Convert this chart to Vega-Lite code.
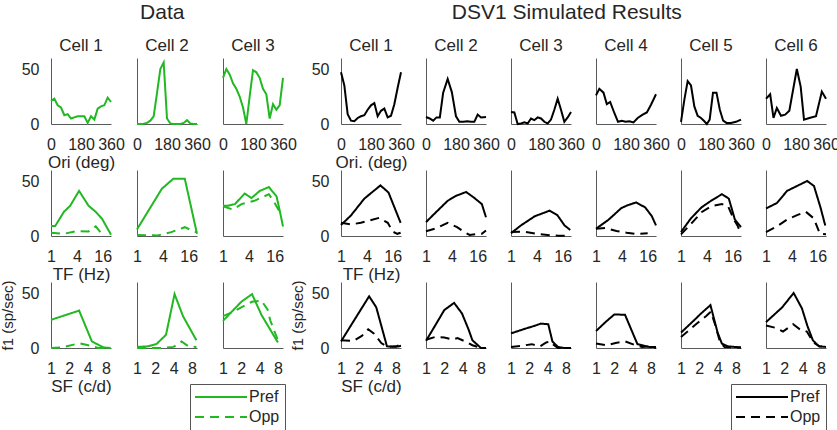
{
  "$schema": "https://vega.github.io/schema/vega-lite/v6.json",
  "padding": {"left": 0, "top": 2, "right": 0, "bottom": 0},
  "datasets": {
    "D_ori": [
      {"c":1,"x":0,"y":21},{"c":1,"x":20,"y":23},{"c":1,"x":40,"y":17},{"c":1,"x":60,"y":15},{"c":1,"x":80,"y":8},{"c":1,"x":100,"y":9},{"c":1,"x":120,"y":5},{"c":1,"x":140,"y":6},{"c":1,"x":160,"y":7},{"c":1,"x":180,"y":7},{"c":1,"x":200,"y":7},{"c":1,"x":220,"y":1},{"c":1,"x":240,"y":7},{"c":1,"x":260,"y":4},{"c":1,"x":280,"y":14},{"c":1,"x":300,"y":16},{"c":1,"x":320,"y":17},{"c":1,"x":340,"y":24},{"c":1,"x":360,"y":20},
      {"c":2,"x":0,"y":0},{"c":2,"x":20,"y":0},{"c":2,"x":40,"y":0.3},{"c":2,"x":60,"y":1},{"c":2,"x":80,"y":3},{"c":2,"x":100,"y":7},{"c":2,"x":120,"y":28},{"c":2,"x":140,"y":50},{"c":2,"x":160,"y":56},{"c":2,"x":180,"y":5},{"c":2,"x":200,"y":0.5},{"c":2,"x":220,"y":0},{"c":2,"x":240,"y":0},{"c":2,"x":260,"y":0},{"c":2,"x":280,"y":1},{"c":2,"x":300,"y":3.5},{"c":2,"x":320,"y":0.5},{"c":2,"x":340,"y":0},{"c":2,"x":360,"y":0},
      {"c":3,"x":0,"y":42},{"c":3,"x":20,"y":50},{"c":3,"x":40,"y":45},{"c":3,"x":60,"y":37},{"c":3,"x":80,"y":32},{"c":3,"x":100,"y":25},{"c":3,"x":120,"y":15},{"c":3,"x":140,"y":0},{"c":3,"x":160,"y":25},{"c":3,"x":180,"y":49},{"c":3,"x":200,"y":47},{"c":3,"x":220,"y":42},{"c":3,"x":240,"y":32},{"c":3,"x":260,"y":27},{"c":3,"x":280,"y":5},{"c":3,"x":300,"y":18},{"c":3,"x":320,"y":13},{"c":3,"x":340,"y":17},{"c":3,"x":360,"y":42}
    ],
    "D_tf": [
      {"c":1,"k":"Pref","x":1,"y":9},{"c":1,"k":"Pref","x":1.25,"y":9},{"c":1,"k":"Pref","x":2,"y":22},{"c":1,"k":"Pref","x":2.8,"y":27.5},{"c":1,"k":"Pref","x":4.5,"y":41},{"c":1,"k":"Pref","x":7.5,"y":27.5},{"c":1,"k":"Pref","x":11,"y":22},{"c":1,"k":"Pref","x":15.5,"y":15.6},{"c":1,"k":"Pref","x":25,"y":1.2},
      {"c":1,"k":"Opp","x":1,"y":3},{"c":1,"k":"Opp","x":2,"y":2},{"c":1,"k":"Opp","x":4,"y":4.5},{"c":1,"k":"Opp","x":7.5,"y":4.2},{"c":1,"k":"Opp","x":11,"y":8.7},{"c":1,"k":"Opp","x":16,"y":1},
      {"c":2,"k":"Pref","x":1,"y":6},{"c":2,"k":"Pref","x":3.8,"y":43},{"c":2,"k":"Pref","x":7,"y":52},{"c":2,"k":"Pref","x":13,"y":52},{"c":2,"k":"Pref","x":25,"y":2},
      {"c":2,"k":"Opp","x":1,"y":1},{"c":2,"k":"Opp","x":3,"y":0.5},{"c":2,"k":"Opp","x":6.3,"y":3.5},{"c":2,"k":"Opp","x":13,"y":8},{"c":2,"k":"Opp","x":25,"y":3},
      {"c":3,"k":"Pref","x":1,"y":27.5},{"c":3,"k":"Pref","x":1.3,"y":27.5},{"c":3,"k":"Pref","x":1.9,"y":29},{"c":3,"k":"Pref","x":3.2,"y":38.6},{"c":3,"k":"Pref","x":4.6,"y":34.5},{"c":3,"k":"Pref","x":7.2,"y":41},{"c":3,"k":"Pref","x":11.7,"y":44.5},{"c":3,"k":"Pref","x":17.7,"y":36},{"c":3,"k":"Pref","x":21,"y":23},{"c":3,"k":"Pref","x":25,"y":8.7},
      {"c":3,"k":"Opp","x":1,"y":27},{"c":3,"k":"Opp","x":1.7,"y":24},{"c":3,"k":"Opp","x":2.7,"y":29},{"c":3,"k":"Opp","x":5.4,"y":32},{"c":3,"k":"Opp","x":11.7,"y":38},{"c":3,"k":"Opp","x":15.5,"y":31},{"c":3,"k":"Opp","x":21,"y":22}
    ],
    "D_sf": [
      {"c":1,"k":"Pref","x":1,"y":25.6},{"c":1,"k":"Pref","x":2.9,"y":34},{"c":1,"k":"Pref","x":4.7,"y":6},{"c":1,"k":"Pref","x":7.3,"y":0.5},{"c":1,"k":"Pref","x":9.5,"y":0},
      {"c":1,"k":"Opp","x":1,"y":0},{"c":1,"k":"Opp","x":1.5,"y":0.5},{"c":1,"k":"Opp","x":2.9,"y":4.3},{"c":1,"k":"Opp","x":4.5,"y":2},{"c":1,"k":"Opp","x":6,"y":0},{"c":1,"k":"Opp","x":9.5,"y":0},
      {"c":2,"k":"Pref","x":1,"y":1},{"c":2,"k":"Pref","x":1.5,"y":1.5},{"c":2,"k":"Pref","x":2.1,"y":3.7},{"c":2,"k":"Pref","x":3,"y":12},{"c":2,"k":"Pref","x":4.15,"y":49},{"c":2,"k":"Pref","x":5.7,"y":29},{"c":2,"k":"Pref","x":9.5,"y":7},
      {"c":2,"k":"Opp","x":1,"y":0},{"c":2,"k":"Opp","x":2.5,"y":0},{"c":2,"k":"Opp","x":4,"y":1},{"c":2,"k":"Opp","x":5.4,"y":6},{"c":2,"k":"Opp","x":7,"y":1.5},{"c":2,"k":"Opp","x":9.5,"y":1},
      {"c":3,"k":"Pref","x":1,"y":24.7},{"c":3,"k":"Pref","x":1.45,"y":34},{"c":3,"k":"Pref","x":2,"y":42},{"c":3,"k":"Pref","x":3,"y":49},{"c":3,"k":"Pref","x":4.3,"y":30},{"c":3,"k":"Pref","x":8,"y":5},
      {"c":3,"k":"Opp","x":1,"y":29},{"c":3,"k":"Opp","x":1.5,"y":33},{"c":3,"k":"Opp","x":2,"y":37},{"c":3,"k":"Opp","x":3,"y":42},{"c":3,"k":"Opp","x":4.3,"y":43},{"c":3,"k":"Opp","x":5.4,"y":35},{"c":3,"k":"Opp","x":6,"y":25},{"c":3,"k":"Opp","x":8,"y":7}
    ],
    "S_ori": [
      {"c":1,"x":0,"y":47},{"c":1,"x":20,"y":35},{"c":1,"x":40,"y":9},{"c":1,"x":60,"y":3},{"c":1,"x":80,"y":2.5},{"c":1,"x":100,"y":5.5},{"c":1,"x":120,"y":7},{"c":1,"x":140,"y":8},{"c":1,"x":160,"y":13},{"c":1,"x":180,"y":17},{"c":1,"x":200,"y":19},{"c":1,"x":220,"y":7},{"c":1,"x":240,"y":12},{"c":1,"x":260,"y":14},{"c":1,"x":280,"y":6},{"c":1,"x":300,"y":7.5},{"c":1,"x":320,"y":18},{"c":1,"x":340,"y":33},{"c":1,"x":360,"y":47},
      {"c":2,"x":0,"y":6.4},{"c":2,"x":22,"y":5},{"c":2,"x":43,"y":3},{"c":2,"x":63,"y":6},{"c":2,"x":83,"y":6},{"c":2,"x":103,"y":28.5},{"c":2,"x":130,"y":41},{"c":2,"x":155,"y":29},{"c":2,"x":180,"y":7},{"c":2,"x":200,"y":2},{"c":2,"x":225,"y":2},{"c":2,"x":247,"y":2.5},{"c":2,"x":270,"y":2},{"c":2,"x":290,"y":2},{"c":2,"x":310,"y":8.6},{"c":2,"x":330,"y":6},{"c":2,"x":360,"y":6.4},
      {"c":3,"x":0,"y":11},{"c":3,"x":20,"y":10.5},{"c":3,"x":40,"y":0},{"c":3,"x":60,"y":0.5},{"c":3,"x":80,"y":1.5},{"c":3,"x":100,"y":0.5},{"c":3,"x":120,"y":5},{"c":3,"x":140,"y":3.5},{"c":3,"x":160,"y":6},{"c":3,"x":180,"y":5},{"c":3,"x":200,"y":2},{"c":3,"x":220,"y":0.5},{"c":3,"x":240,"y":4},{"c":3,"x":260,"y":13},{"c":3,"x":280,"y":23},{"c":3,"x":300,"y":13},{"c":3,"x":320,"y":2},{"c":3,"x":340,"y":6},{"c":3,"x":360,"y":11},
      {"c":4,"x":0,"y":26},{"c":4,"x":20,"y":32},{"c":4,"x":45,"y":28.5},{"c":4,"x":65,"y":18},{"c":4,"x":85,"y":20},{"c":4,"x":110,"y":10},{"c":4,"x":132,"y":2},{"c":4,"x":155,"y":3},{"c":4,"x":178,"y":2},{"c":4,"x":200,"y":2.5},{"c":4,"x":225,"y":1.5},{"c":4,"x":250,"y":5.5},{"c":4,"x":280,"y":8.5},{"c":4,"x":305,"y":10.5},{"c":4,"x":330,"y":17.5},{"c":4,"x":360,"y":27},
      {"c":5,"x":0,"y":2},{"c":5,"x":20,"y":22},{"c":5,"x":40,"y":39},{"c":5,"x":60,"y":35},{"c":5,"x":80,"y":16},{"c":5,"x":100,"y":7.5},{"c":5,"x":120,"y":5.5},{"c":5,"x":140,"y":2.5},{"c":5,"x":155,"y":0},{"c":5,"x":172,"y":4},{"c":5,"x":192,"y":28.5},{"c":5,"x":213,"y":28.5},{"c":5,"x":233,"y":13},{"c":5,"x":253,"y":3},{"c":5,"x":273,"y":1},{"c":5,"x":300,"y":1},{"c":5,"x":330,"y":2},{"c":5,"x":360,"y":4},
      {"c":6,"x":0,"y":23},{"c":6,"x":25,"y":27},{"c":6,"x":45,"y":5.5},{"c":6,"x":65,"y":14.5},{"c":6,"x":90,"y":7.5},{"c":6,"x":115,"y":8.5},{"c":6,"x":140,"y":12},{"c":6,"x":185,"y":50},{"c":6,"x":208,"y":34},{"c":6,"x":228,"y":4},{"c":6,"x":260,"y":5.5},{"c":6,"x":300,"y":7},{"c":6,"x":335,"y":29.5},{"c":6,"x":360,"y":23}
    ],
    "S_tf": [
      {"c":1,"k":"Pref","x":1,"y":10},{"c":1,"k":"Pref","x":1.7,"y":18.6},{"c":1,"k":"Pref","x":3.5,"y":34},{"c":1,"k":"Pref","x":8.3,"y":46},{"c":1,"k":"Pref","x":12.8,"y":39.5},{"c":1,"k":"Pref","x":24.5,"y":12},
      {"c":1,"k":"Opp","x":1,"y":12},{"c":1,"k":"Opp","x":1.7,"y":10.5},{"c":1,"k":"Opp","x":2.9,"y":12},{"c":1,"k":"Opp","x":7.8,"y":16.5},{"c":1,"k":"Opp","x":12.3,"y":12},{"c":1,"k":"Opp","x":16,"y":4},{"c":1,"k":"Opp","x":20.5,"y":2},{"c":1,"k":"Opp","x":24.5,"y":3},
      {"c":2,"k":"Pref","x":1,"y":12.6},{"c":2,"k":"Pref","x":1.55,"y":20},{"c":2,"k":"Pref","x":3.2,"y":32},{"c":2,"k":"Pref","x":5,"y":36.5},{"c":2,"k":"Pref","x":8.6,"y":40},{"c":2,"k":"Pref","x":13,"y":35},{"c":2,"k":"Pref","x":20,"y":29},{"c":2,"k":"Pref","x":25,"y":17},
      {"c":2,"k":"Opp","x":1,"y":4.3},{"c":2,"k":"Opp","x":1.7,"y":7},{"c":2,"k":"Opp","x":3.2,"y":12},{"c":2,"k":"Opp","x":5.3,"y":8},{"c":2,"k":"Opp","x":7.8,"y":3.6},{"c":2,"k":"Opp","x":10.4,"y":1},{"c":2,"k":"Opp","x":14,"y":1.5},{"c":2,"k":"Opp","x":20,"y":2},{"c":2,"k":"Opp","x":25,"y":5},
      {"c":3,"k":"Pref","x":1,"y":2.5},{"c":3,"k":"Pref","x":1.7,"y":9.6},{"c":3,"k":"Pref","x":3.6,"y":18},{"c":3,"k":"Pref","x":7.9,"y":23},{"c":3,"k":"Pref","x":12,"y":19},{"c":3,"k":"Pref","x":17.7,"y":9.6},{"c":3,"k":"Pref","x":24,"y":5.5},
      {"c":3,"k":"Opp","x":1,"y":3.6},{"c":3,"k":"Opp","x":2,"y":4},{"c":3,"k":"Opp","x":4,"y":2},{"c":3,"k":"Opp","x":8,"y":0.6},{"c":3,"k":"Opp","x":13,"y":0.3},{"c":3,"k":"Opp","x":24,"y":0},
      {"c":4,"k":"Pref","x":1,"y":6.6},{"c":4,"k":"Pref","x":1.95,"y":14.7},{"c":4,"k":"Pref","x":3.9,"y":25.4},{"c":4,"k":"Pref","x":5.5,"y":28},{"c":4,"k":"Pref","x":8.6,"y":30.5},{"c":4,"k":"Pref","x":14,"y":26},{"c":4,"k":"Pref","x":20,"y":18},{"c":4,"k":"Pref","x":25,"y":9.6},
      {"c":4,"k":"Opp","x":1,"y":6.6},{"c":4,"k":"Opp","x":1.65,"y":7.2},{"c":4,"k":"Opp","x":3,"y":4.5},{"c":4,"k":"Opp","x":5.2,"y":3},{"c":4,"k":"Opp","x":8.7,"y":1.8},{"c":4,"k":"Opp","x":16,"y":2.5},
      {"c":5,"k":"Pref","x":1,"y":3.6},{"c":5,"k":"Pref","x":1.7,"y":16},{"c":5,"k":"Pref","x":3,"y":26},{"c":5,"k":"Pref","x":5,"y":32},{"c":5,"k":"Pref","x":9,"y":38},{"c":5,"k":"Pref","x":13,"y":34},{"c":5,"k":"Pref","x":18,"y":15},{"c":5,"k":"Pref","x":25,"y":8},
      {"c":5,"k":"Opp","x":1,"y":1.5},{"c":5,"k":"Opp","x":1.8,"y":12},{"c":5,"k":"Opp","x":3,"y":21.6},{"c":5,"k":"Opp","x":5,"y":27},{"c":5,"k":"Opp","x":9,"y":29},{"c":5,"k":"Opp","x":12.5,"y":27},{"c":5,"k":"Opp","x":17,"y":15},{"c":5,"k":"Opp","x":21,"y":9},{"c":5,"k":"Opp","x":25,"y":2},
      {"c":6,"k":"Pref","x":1,"y":25},{"c":6,"k":"Pref","x":1.8,"y":30},{"c":6,"k":"Pref","x":3.1,"y":41},{"c":6,"k":"Pref","x":5.3,"y":45.5},{"c":6,"k":"Pref","x":9.1,"y":50},{"c":6,"k":"Pref","x":13.1,"y":45.5},{"c":6,"k":"Pref","x":18.6,"y":26},{"c":6,"k":"Pref","x":24,"y":9.6},
      {"c":6,"k":"Opp","x":1,"y":3.6},{"c":6,"k":"Opp","x":1.8,"y":8.7},{"c":6,"k":"Opp","x":3.1,"y":15},{"c":6,"k":"Opp","x":5.3,"y":19},{"c":6,"k":"Opp","x":8.5,"y":22},{"c":6,"k":"Opp","x":13,"y":16},{"c":6,"k":"Opp","x":18,"y":2},{"c":6,"k":"Opp","x":25,"y":1.5}
    ],
    "S_sf": [
      {"c":1,"k":"Pref","x":1,"y":6},{"c":1,"k":"Pref","x":1.77,"y":28},{"c":1,"k":"Pref","x":2.9,"y":47},{"c":1,"k":"Pref","x":3.8,"y":37},{"c":1,"k":"Pref","x":5.7,"y":1.5},{"c":1,"k":"Pref","x":8,"y":1},{"c":1,"k":"Pref","x":9.7,"y":2},
      {"c":1,"k":"Opp","x":1,"y":7},{"c":1,"k":"Opp","x":1.6,"y":6.5},{"c":1,"k":"Opp","x":2.2,"y":11},{"c":1,"k":"Opp","x":2.8,"y":17},{"c":1,"k":"Opp","x":3.5,"y":13},{"c":1,"k":"Opp","x":4.6,"y":4.5},{"c":1,"k":"Opp","x":5.8,"y":1},{"c":1,"k":"Opp","x":8,"y":1.5},{"c":1,"k":"Opp","x":9.7,"y":3},
      {"c":2,"k":"Pref","x":1,"y":6.5},{"c":2,"k":"Pref","x":1.4,"y":20},{"c":2,"k":"Pref","x":2,"y":34.5},{"c":2,"k":"Pref","x":2.9,"y":41},{"c":2,"k":"Pref","x":3.9,"y":31.5},{"c":2,"k":"Pref","x":5,"y":17},{"c":2,"k":"Pref","x":5.8,"y":7},{"c":2,"k":"Pref","x":8,"y":0},{"c":2,"k":"Pref","x":9.7,"y":0},
      {"c":2,"k":"Opp","x":1,"y":7.5},{"c":2,"k":"Opp","x":1.4,"y":10},{"c":2,"k":"Opp","x":2,"y":9.5},{"c":2,"k":"Opp","x":2.7,"y":7.7},{"c":2,"k":"Opp","x":3.3,"y":9},{"c":2,"k":"Opp","x":4.4,"y":6},{"c":2,"k":"Opp","x":5.8,"y":2.5},{"c":2,"k":"Opp","x":8,"y":0},{"c":2,"k":"Opp","x":9.7,"y":0},
      {"c":3,"k":"Pref","x":1,"y":13.3},{"c":3,"k":"Pref","x":1.7,"y":17.5},{"c":3,"k":"Pref","x":2.4,"y":20},{"c":3,"k":"Pref","x":3.1,"y":22.2},{"c":3,"k":"Pref","x":4.1,"y":21.6},{"c":3,"k":"Pref","x":4.8,"y":6},{"c":3,"k":"Pref","x":5.9,"y":1},{"c":3,"k":"Pref","x":7.5,"y":0},{"c":3,"k":"Pref","x":9.7,"y":0},
      {"c":3,"k":"Opp","x":1,"y":1},{"c":3,"k":"Opp","x":1.5,"y":2},{"c":3,"k":"Opp","x":2.2,"y":3.5},{"c":3,"k":"Opp","x":3,"y":1.5},{"c":3,"k":"Opp","x":3.8,"y":5},{"c":3,"k":"Opp","x":4.4,"y":6},{"c":3,"k":"Opp","x":5,"y":3},{"c":3,"k":"Opp","x":5.9,"y":0},{"c":3,"k":"Opp","x":9.7,"y":0},
      {"c":4,"k":"Pref","x":1,"y":15.4},{"c":4,"k":"Pref","x":1.45,"y":23.8},{"c":4,"k":"Pref","x":2,"y":30.5},{"c":4,"k":"Pref","x":3,"y":30.2},{"c":4,"k":"Pref","x":4.8,"y":3.5},{"c":4,"k":"Pref","x":5.8,"y":2.5},{"c":4,"k":"Pref","x":7.4,"y":1},{"c":4,"k":"Pref","x":9.7,"y":1},
      {"c":4,"k":"Opp","x":1,"y":4},{"c":4,"k":"Opp","x":1.5,"y":2.5},{"c":4,"k":"Opp","x":2.1,"y":4.6},{"c":4,"k":"Opp","x":3,"y":6},{"c":4,"k":"Opp","x":4.2,"y":3},{"c":4,"k":"Opp","x":5.7,"y":1},{"c":4,"k":"Opp","x":7.5,"y":1.5},{"c":4,"k":"Opp","x":9.7,"y":0},
      {"c":5,"k":"Pref","x":1,"y":14},{"c":5,"k":"Pref","x":1.7,"y":26},{"c":5,"k":"Pref","x":2.1,"y":31},{"c":5,"k":"Pref","x":3.05,"y":39},{"c":5,"k":"Pref","x":4,"y":14},{"c":5,"k":"Pref","x":4.7,"y":4},{"c":5,"k":"Pref","x":5.9,"y":1.5},{"c":5,"k":"Pref","x":7.5,"y":1},{"c":5,"k":"Pref","x":9.7,"y":0.5},
      {"c":5,"k":"Opp","x":1,"y":10},{"c":5,"k":"Opp","x":1.8,"y":22},{"c":5,"k":"Opp","x":2.6,"y":29},{"c":5,"k":"Opp","x":3.1,"y":33},{"c":5,"k":"Opp","x":3.7,"y":20},{"c":5,"k":"Opp","x":4.4,"y":5},{"c":5,"k":"Opp","x":5.2,"y":1},{"c":5,"k":"Opp","x":7.5,"y":0.5},{"c":5,"k":"Opp","x":9.7,"y":0.5},
      {"c":6,"k":"Pref","x":1,"y":23.5},{"c":6,"k":"Pref","x":1.85,"y":37},{"c":6,"k":"Pref","x":2.85,"y":50},{"c":6,"k":"Pref","x":3.9,"y":36},{"c":6,"k":"Pref","x":4.8,"y":20},{"c":6,"k":"Pref","x":5.9,"y":7},{"c":6,"k":"Pref","x":7.4,"y":1.5},{"c":6,"k":"Pref","x":9.7,"y":1},
      {"c":6,"k":"Opp","x":1,"y":20.5},{"c":6,"k":"Opp","x":1.4,"y":18.5},{"c":6,"k":"Opp","x":1.9,"y":15},{"c":6,"k":"Opp","x":2.8,"y":21.6},{"c":6,"k":"Opp","x":3.6,"y":17},{"c":6,"k":"Opp","x":4.7,"y":15},{"c":6,"k":"Opp","x":6,"y":5},{"c":6,"k":"Opp","x":7.6,"y":1.5},{"c":6,"k":"Opp","x":9.7,"y":1}
    ]
  },
  "hconcat": [
    {
      "title": {"text": "Data", "fontSize": 21, "offset": 14, "anchor": "middle", "dx": 14},
      "columns": 3,
      "bounds": "flush",
      "spacing": {"row": 46, "column": 26},
      "concat": [
        {"width": 60, "height": 66, "title": "Cell 1", "data": {"name": "D_ori"}, "transform": [{"filter": "datum.c == 1"}], "mark": {"type": "line", "color": "#21b821", "strokeWidth": 2},
         "encoding": {"x": {"field": "x", "type": "quantitative", "scale": {"domain": [0, 360], "nice": false, "zero": false}, "axis": {"values": [0, 180, 360], "title": "Ori (deg)"}},
                      "y": {"field": "y", "type": "quantitative", "scale": {"domain": [0, 60], "nice": false}, "axis": {"values": [0, 50], "title": null}}}},
        {"width": 60, "height": 66, "title": "Cell 2", "data": {"name": "D_ori"}, "transform": [{"filter": "datum.c == 2"}], "mark": {"type": "line", "color": "#21b821", "strokeWidth": 2},
         "encoding": {"x": {"field": "x", "type": "quantitative", "scale": {"domain": [0, 360], "nice": false, "zero": false}, "axis": {"values": [0, 180, 360], "title": null}},
                      "y": {"field": "y", "type": "quantitative", "scale": {"domain": [0, 60], "nice": false}, "axis": {"values": [0, 50], "labels": false, "title": null}}}},
        {"width": 60, "height": 66, "title": "Cell 3", "data": {"name": "D_ori"}, "transform": [{"filter": "datum.c == 3"}], "mark": {"type": "line", "color": "#21b821", "strokeWidth": 2},
         "encoding": {"x": {"field": "x", "type": "quantitative", "scale": {"domain": [0, 360], "nice": false, "zero": false}, "axis": {"values": [0, 180, 360], "title": null}},
                      "y": {"field": "y", "type": "quantitative", "scale": {"domain": [0, 60], "nice": false}, "axis": {"values": [0, 50], "labels": false, "title": null}}}},
        {"width": 60, "height": 66, "data": {"name": "D_tf"}, "transform": [{"filter": "datum.c == 1"}], "mark": {"type": "line", "color": "#21b821", "strokeWidth": 2},
         "encoding": {"x": {"field": "x", "type": "quantitative", "scale": {"type": "log", "base": 2, "domain": [1, 25], "nice": false}, "axis": {"values": [1, 4, 16], "format": "d", "title": "TF (Hz)"}},
                      "y": {"field": "y", "type": "quantitative", "scale": {"domain": [0, 60], "nice": false}, "axis": {"values": [0, 50], "title": null}},
                      "strokeDash": {"field": "k", "type": "nominal", "scale": {"domain": ["Pref", "Opp"], "range": [[1, 0], [9, 6]]}, "legend": {"orient": "none", "legendX": 139, "legendY": 326, "title": null, "symbolStrokeColor": "#21b821"}}}},
        {"width": 60, "height": 66, "data": {"name": "D_tf"}, "transform": [{"filter": "datum.c == 2"}], "mark": {"type": "line", "color": "#21b821", "strokeWidth": 2},
         "encoding": {"x": {"field": "x", "type": "quantitative", "scale": {"type": "log", "base": 2, "domain": [1, 25], "nice": false}, "axis": {"values": [1, 4, 16], "format": "d", "title": null}},
                      "y": {"field": "y", "type": "quantitative", "scale": {"domain": [0, 60], "nice": false}, "axis": {"values": [0, 50], "labels": false, "title": null}},
                      "strokeDash": {"field": "k", "type": "nominal", "scale": {"domain": ["Pref", "Opp"], "range": [[1, 0], [9, 6]]}, "legend": {"orient": "none", "legendX": 139, "legendY": 326, "title": null, "symbolStrokeColor": "#21b821"}}}},
        {"width": 60, "height": 66, "data": {"name": "D_tf"}, "transform": [{"filter": "datum.c == 3"}], "mark": {"type": "line", "color": "#21b821", "strokeWidth": 2},
         "encoding": {"x": {"field": "x", "type": "quantitative", "scale": {"type": "log", "base": 2, "domain": [1, 25], "nice": false}, "axis": {"values": [1, 4, 16], "format": "d", "title": null}},
                      "y": {"field": "y", "type": "quantitative", "scale": {"domain": [0, 60], "nice": false}, "axis": {"values": [0, 50], "labels": false, "title": null}},
                      "strokeDash": {"field": "k", "type": "nominal", "scale": {"domain": ["Pref", "Opp"], "range": [[1, 0], [9, 6]]}, "legend": {"orient": "none", "legendX": 139, "legendY": 326, "title": null, "symbolStrokeColor": "#21b821"}}}},
        {"width": 60, "height": 66, "data": {"name": "D_sf"}, "transform": [{"filter": "datum.c == 1"}], "mark": {"type": "line", "color": "#21b821", "strokeWidth": 2},
         "encoding": {"x": {"field": "x", "type": "quantitative", "scale": {"type": "log", "base": 2, "domain": [1, 9.7], "nice": false}, "axis": {"values": [1, 2, 4, 8], "format": "d", "title": "SF (c/d)"}},
                      "y": {"field": "y", "type": "quantitative", "scale": {"domain": [0, 60], "nice": false}, "axis": {"values": [0, 50], "title": "f1 (sp/sec)"}},
                      "strokeDash": {"field": "k", "type": "nominal", "scale": {"domain": ["Pref", "Opp"], "range": [[1, 0], [9, 6]]}, "legend": {"orient": "none", "legendX": 139, "legendY": 326, "title": null, "symbolStrokeColor": "#21b821"}}}},
        {"width": 60, "height": 66, "data": {"name": "D_sf"}, "transform": [{"filter": "datum.c == 2"}], "mark": {"type": "line", "color": "#21b821", "strokeWidth": 2},
         "encoding": {"x": {"field": "x", "type": "quantitative", "scale": {"type": "log", "base": 2, "domain": [1, 9.7], "nice": false}, "axis": {"values": [1, 2, 4, 8], "format": "d", "title": null}},
                      "y": {"field": "y", "type": "quantitative", "scale": {"domain": [0, 60], "nice": false}, "axis": {"values": [0, 50], "labels": false, "title": null}},
                      "strokeDash": {"field": "k", "type": "nominal", "scale": {"domain": ["Pref", "Opp"], "range": [[1, 0], [9, 6]]}, "legend": {"orient": "none", "legendX": 139, "legendY": 326, "title": null, "symbolStrokeColor": "#21b821"}}}},
        {"width": 60, "height": 66, "data": {"name": "D_sf"}, "transform": [{"filter": "datum.c == 3"}], "mark": {"type": "line", "color": "#21b821", "strokeWidth": 2},
         "encoding": {"x": {"field": "x", "type": "quantitative", "scale": {"type": "log", "base": 2, "domain": [1, 9.7], "nice": false}, "axis": {"values": [1, 2, 4, 8], "format": "d", "title": null}},
                      "y": {"field": "y", "type": "quantitative", "scale": {"domain": [0, 60], "nice": false}, "axis": {"values": [0, 50], "labels": false, "title": null}},
                      "strokeDash": {"field": "k", "type": "nominal", "scale": {"domain": ["Pref", "Opp"], "range": [[1, 0], [9, 6]]}, "legend": {"orient": "none", "legendX": 139, "legendY": 326, "title": null, "symbolStrokeColor": "#21b821"}}}}
      ]
    },
    {
      "title": {"text": "DSV1 Simulated Results", "fontSize": 21, "offset": 14, "anchor": "middle", "dx": 2},
      "columns": 6,
      "bounds": "flush",
      "spacing": {"row": 46, "column": 25},
      "concat": [
        {"width": 60, "height": 66, "title": "Cell 1", "data": {"name": "S_ori"}, "transform": [{"filter": "datum.c == 1"}], "mark": {"type": "line", "color": "black", "strokeWidth": 2},
         "encoding": {"x": {"field": "x", "type": "quantitative", "scale": {"domain": [0, 360], "nice": false, "zero": false}, "axis": {"values": [0, 180, 360], "title": "Ori. (deg)"}},
                      "y": {"field": "y", "type": "quantitative", "scale": {"domain": [0, 60], "nice": false}, "axis": {"values": [0, 50], "title": null}}}},
        {"width": 60, "height": 66, "title": "Cell 2", "data": {"name": "S_ori"}, "transform": [{"filter": "datum.c == 2"}], "mark": {"type": "line", "color": "black", "strokeWidth": 2},
         "encoding": {"x": {"field": "x", "type": "quantitative", "scale": {"domain": [0, 360], "nice": false, "zero": false}, "axis": {"values": [0, 180, 360], "title": null}},
                      "y": {"field": "y", "type": "quantitative", "scale": {"domain": [0, 60], "nice": false}, "axis": {"values": [0, 50], "labels": false, "title": null}}}},
        {"width": 60, "height": 66, "title": "Cell 3", "data": {"name": "S_ori"}, "transform": [{"filter": "datum.c == 3"}], "mark": {"type": "line", "color": "black", "strokeWidth": 2},
         "encoding": {"x": {"field": "x", "type": "quantitative", "scale": {"domain": [0, 360], "nice": false, "zero": false}, "axis": {"values": [0, 180, 360], "title": null}},
                      "y": {"field": "y", "type": "quantitative", "scale": {"domain": [0, 60], "nice": false}, "axis": {"values": [0, 50], "labels": false, "title": null}}}},
        {"width": 60, "height": 66, "title": "Cell 4", "data": {"name": "S_ori"}, "transform": [{"filter": "datum.c == 4"}], "mark": {"type": "line", "color": "black", "strokeWidth": 2},
         "encoding": {"x": {"field": "x", "type": "quantitative", "scale": {"domain": [0, 360], "nice": false, "zero": false}, "axis": {"values": [0, 180, 360], "title": null}},
                      "y": {"field": "y", "type": "quantitative", "scale": {"domain": [0, 60], "nice": false}, "axis": {"values": [0, 50], "labels": false, "title": null}}}},
        {"width": 60, "height": 66, "title": "Cell 5", "data": {"name": "S_ori"}, "transform": [{"filter": "datum.c == 5"}], "mark": {"type": "line", "color": "black", "strokeWidth": 2},
         "encoding": {"x": {"field": "x", "type": "quantitative", "scale": {"domain": [0, 360], "nice": false, "zero": false}, "axis": {"values": [0, 180, 360], "title": null}},
                      "y": {"field": "y", "type": "quantitative", "scale": {"domain": [0, 60], "nice": false}, "axis": {"values": [0, 50], "labels": false, "title": null}}}},
        {"width": 60, "height": 66, "title": "Cell 6", "data": {"name": "S_ori"}, "transform": [{"filter": "datum.c == 6"}], "mark": {"type": "line", "color": "black", "strokeWidth": 2},
         "encoding": {"x": {"field": "x", "type": "quantitative", "scale": {"domain": [0, 360], "nice": false, "zero": false}, "axis": {"values": [0, 180, 360], "title": null}},
                      "y": {"field": "y", "type": "quantitative", "scale": {"domain": [0, 60], "nice": false}, "axis": {"values": [0, 50], "labels": false, "title": null}}}},
        {"width": 60, "height": 66, "data": {"name": "S_tf"}, "transform": [{"filter": "datum.c == 1"}], "mark": {"type": "line", "color": "black", "strokeWidth": 2},
         "encoding": {"x": {"field": "x", "type": "quantitative", "scale": {"type": "log", "base": 2, "domain": [1, 25], "nice": false}, "axis": {"values": [1, 4, 16], "format": "d", "title": "TF (Hz)"}},
                      "y": {"field": "y", "type": "quantitative", "scale": {"domain": [0, 60], "nice": false}, "axis": {"values": [0, 50], "title": null}},
                      "strokeDash": {"field": "k", "type": "nominal", "scale": {"domain": ["Pref", "Opp"], "range": [[1, 0], [9, 6]]}, "legend": {"orient": "none", "legendX": 390, "legendY": 326, "title": null, "symbolStrokeColor": "black"}}}},
        {"width": 60, "height": 66, "data": {"name": "S_tf"}, "transform": [{"filter": "datum.c == 2"}], "mark": {"type": "line", "color": "black", "strokeWidth": 2},
         "encoding": {"x": {"field": "x", "type": "quantitative", "scale": {"type": "log", "base": 2, "domain": [1, 25], "nice": false}, "axis": {"values": [1, 4, 16], "format": "d", "title": null}},
                      "y": {"field": "y", "type": "quantitative", "scale": {"domain": [0, 60], "nice": false}, "axis": {"values": [0, 50], "labels": false, "title": null}},
                      "strokeDash": {"field": "k", "type": "nominal", "scale": {"domain": ["Pref", "Opp"], "range": [[1, 0], [9, 6]]}, "legend": {"orient": "none", "legendX": 390, "legendY": 326, "title": null, "symbolStrokeColor": "black"}}}},
        {"width": 60, "height": 66, "data": {"name": "S_tf"}, "transform": [{"filter": "datum.c == 3"}], "mark": {"type": "line", "color": "black", "strokeWidth": 2},
         "encoding": {"x": {"field": "x", "type": "quantitative", "scale": {"type": "log", "base": 2, "domain": [1, 25], "nice": false}, "axis": {"values": [1, 4, 16], "format": "d", "title": null}},
                      "y": {"field": "y", "type": "quantitative", "scale": {"domain": [0, 60], "nice": false}, "axis": {"values": [0, 50], "labels": false, "title": null}},
                      "strokeDash": {"field": "k", "type": "nominal", "scale": {"domain": ["Pref", "Opp"], "range": [[1, 0], [9, 6]]}, "legend": {"orient": "none", "legendX": 390, "legendY": 326, "title": null, "symbolStrokeColor": "black"}}}},
        {"width": 60, "height": 66, "data": {"name": "S_tf"}, "transform": [{"filter": "datum.c == 4"}], "mark": {"type": "line", "color": "black", "strokeWidth": 2},
         "encoding": {"x": {"field": "x", "type": "quantitative", "scale": {"type": "log", "base": 2, "domain": [1, 25], "nice": false}, "axis": {"values": [1, 4, 16], "format": "d", "title": null}},
                      "y": {"field": "y", "type": "quantitative", "scale": {"domain": [0, 60], "nice": false}, "axis": {"values": [0, 50], "labels": false, "title": null}},
                      "strokeDash": {"field": "k", "type": "nominal", "scale": {"domain": ["Pref", "Opp"], "range": [[1, 0], [9, 6]]}, "legend": {"orient": "none", "legendX": 390, "legendY": 326, "title": null, "symbolStrokeColor": "black"}}}},
        {"width": 60, "height": 66, "data": {"name": "S_tf"}, "transform": [{"filter": "datum.c == 5"}], "mark": {"type": "line", "color": "black", "strokeWidth": 2},
         "encoding": {"x": {"field": "x", "type": "quantitative", "scale": {"type": "log", "base": 2, "domain": [1, 25], "nice": false}, "axis": {"values": [1, 4, 16], "format": "d", "title": null}},
                      "y": {"field": "y", "type": "quantitative", "scale": {"domain": [0, 60], "nice": false}, "axis": {"values": [0, 50], "labels": false, "title": null}},
                      "strokeDash": {"field": "k", "type": "nominal", "scale": {"domain": ["Pref", "Opp"], "range": [[1, 0], [9, 6]]}, "legend": {"orient": "none", "legendX": 390, "legendY": 326, "title": null, "symbolStrokeColor": "black"}}}},
        {"width": 60, "height": 66, "data": {"name": "S_tf"}, "transform": [{"filter": "datum.c == 6"}], "mark": {"type": "line", "color": "black", "strokeWidth": 2},
         "encoding": {"x": {"field": "x", "type": "quantitative", "scale": {"type": "log", "base": 2, "domain": [1, 25], "nice": false}, "axis": {"values": [1, 4, 16], "format": "d", "title": null}},
                      "y": {"field": "y", "type": "quantitative", "scale": {"domain": [0, 60], "nice": false}, "axis": {"values": [0, 50], "labels": false, "title": null}},
                      "strokeDash": {"field": "k", "type": "nominal", "scale": {"domain": ["Pref", "Opp"], "range": [[1, 0], [9, 6]]}, "legend": {"orient": "none", "legendX": 390, "legendY": 326, "title": null, "symbolStrokeColor": "black"}}}},
        {"width": 60, "height": 66, "data": {"name": "S_sf"}, "transform": [{"filter": "datum.c == 1"}], "mark": {"type": "line", "color": "black", "strokeWidth": 2},
         "encoding": {"x": {"field": "x", "type": "quantitative", "scale": {"type": "log", "base": 2, "domain": [1, 9.7], "nice": false}, "axis": {"values": [1, 2, 4, 8], "format": "d", "title": "SF (c/d)"}},
                      "y": {"field": "y", "type": "quantitative", "scale": {"domain": [0, 60], "nice": false}, "axis": {"values": [0, 50], "title": "f1 (sp/sec)"}},
                      "strokeDash": {"field": "k", "type": "nominal", "scale": {"domain": ["Pref", "Opp"], "range": [[1, 0], [9, 6]]}, "legend": {"orient": "none", "legendX": 390, "legendY": 326, "title": null, "symbolStrokeColor": "black"}}}},
        {"width": 60, "height": 66, "data": {"name": "S_sf"}, "transform": [{"filter": "datum.c == 2"}], "mark": {"type": "line", "color": "black", "strokeWidth": 2},
         "encoding": {"x": {"field": "x", "type": "quantitative", "scale": {"type": "log", "base": 2, "domain": [1, 9.7], "nice": false}, "axis": {"values": [1, 2, 4, 8], "format": "d", "title": null}},
                      "y": {"field": "y", "type": "quantitative", "scale": {"domain": [0, 60], "nice": false}, "axis": {"values": [0, 50], "labels": false, "title": null}},
                      "strokeDash": {"field": "k", "type": "nominal", "scale": {"domain": ["Pref", "Opp"], "range": [[1, 0], [9, 6]]}, "legend": {"orient": "none", "legendX": 390, "legendY": 326, "title": null, "symbolStrokeColor": "black"}}}},
        {"width": 60, "height": 66, "data": {"name": "S_sf"}, "transform": [{"filter": "datum.c == 3"}], "mark": {"type": "line", "color": "black", "strokeWidth": 2},
         "encoding": {"x": {"field": "x", "type": "quantitative", "scale": {"type": "log", "base": 2, "domain": [1, 9.7], "nice": false}, "axis": {"values": [1, 2, 4, 8], "format": "d", "title": null}},
                      "y": {"field": "y", "type": "quantitative", "scale": {"domain": [0, 60], "nice": false}, "axis": {"values": [0, 50], "labels": false, "title": null}},
                      "strokeDash": {"field": "k", "type": "nominal", "scale": {"domain": ["Pref", "Opp"], "range": [[1, 0], [9, 6]]}, "legend": {"orient": "none", "legendX": 390, "legendY": 326, "title": null, "symbolStrokeColor": "black"}}}},
        {"width": 60, "height": 66, "data": {"name": "S_sf"}, "transform": [{"filter": "datum.c == 4"}], "mark": {"type": "line", "color": "black", "strokeWidth": 2},
         "encoding": {"x": {"field": "x", "type": "quantitative", "scale": {"type": "log", "base": 2, "domain": [1, 9.7], "nice": false}, "axis": {"values": [1, 2, 4, 8], "format": "d", "title": null}},
                      "y": {"field": "y", "type": "quantitative", "scale": {"domain": [0, 60], "nice": false}, "axis": {"values": [0, 50], "labels": false, "title": null}},
                      "strokeDash": {"field": "k", "type": "nominal", "scale": {"domain": ["Pref", "Opp"], "range": [[1, 0], [9, 6]]}, "legend": {"orient": "none", "legendX": 390, "legendY": 326, "title": null, "symbolStrokeColor": "black"}}}},
        {"width": 60, "height": 66, "data": {"name": "S_sf"}, "transform": [{"filter": "datum.c == 5"}], "mark": {"type": "line", "color": "black", "strokeWidth": 2},
         "encoding": {"x": {"field": "x", "type": "quantitative", "scale": {"type": "log", "base": 2, "domain": [1, 9.7], "nice": false}, "axis": {"values": [1, 2, 4, 8], "format": "d", "title": null}},
                      "y": {"field": "y", "type": "quantitative", "scale": {"domain": [0, 60], "nice": false}, "axis": {"values": [0, 50], "labels": false, "title": null}},
                      "strokeDash": {"field": "k", "type": "nominal", "scale": {"domain": ["Pref", "Opp"], "range": [[1, 0], [9, 6]]}, "legend": {"orient": "none", "legendX": 390, "legendY": 326, "title": null, "symbolStrokeColor": "black"}}}},
        {"width": 60, "height": 66, "data": {"name": "S_sf"}, "transform": [{"filter": "datum.c == 6"}], "mark": {"type": "line", "color": "black", "strokeWidth": 2},
         "encoding": {"x": {"field": "x", "type": "quantitative", "scale": {"type": "log", "base": 2, "domain": [1, 9.7], "nice": false}, "axis": {"values": [1, 2, 4, 8], "format": "d", "title": null}},
                      "y": {"field": "y", "type": "quantitative", "scale": {"domain": [0, 60], "nice": false}, "axis": {"values": [0, 50], "labels": false, "title": null}},
                      "strokeDash": {"field": "k", "type": "nominal", "scale": {"domain": ["Pref", "Opp"], "range": [[1, 0], [9, 6]]}, "legend": {"orient": "none", "legendX": 390, "legendY": 326, "title": null, "symbolStrokeColor": "black"}}}}
      ]
    }
  ],
  "spacing": -7,
  "resolve": {"scale": {"strokeDash": "independent"}, "legend": {"strokeDash": "independent"}},
  "config": {
    "font": "Liberation Sans",
    "view": {"stroke": null},
    "axis": {"domainColor": "#5a5a5a", "domainWidth": 1, "ticks": false, "grid": false, "labelFontSize": 16, "labelColor": "#262626", "titleFontSize": 17, "titleFontWeight": "normal", "titleColor": "#262626", "labelFlush": false, "labelOverlap": false, "labelBound": false},
    "axisX": {"labelPadding": 12, "titlePadding": 2},
    "axisY": {"labelPadding": 12, "titlePadding": 6, "titleFontSize": 15},
    "title": {"fontSize": 17, "fontWeight": "normal", "color": "#262626", "offset": 3},
    "legend": {"direction": "vertical", "symbolType": "M-4,0H4", "symbolSize": 169, "symbolStrokeWidth": 2, "symbolOffset": 18, "labelOffset": 20, "labelFontSize": 16, "labelColor": "#262626", "padding": 5, "rowPadding": 4, "strokeColor": "#555555", "fillColor": "white"}
  }
}
